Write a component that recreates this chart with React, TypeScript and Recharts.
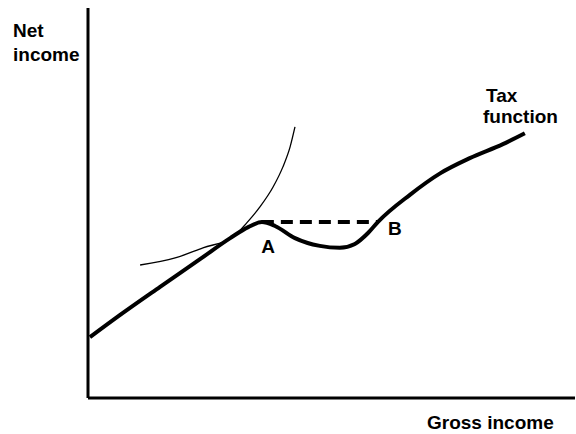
import { LineChart, Line, XAxis, YAxis, ReferenceDot, ReferenceLine } from 'recharts';

// gross income (x) vs net income (y), both on a 0-100 scale
const taxX = [0.4, 6.6, 14.8, 23.0, 29.2, 32.9, 35.7, 38.4, 42.5, 47.6, 51.7, 54.8, 57.5, 59.5, 66.1, 72.3, 78.4, 85.2, 89.7];
const taxY = [15.6, 21.3, 28.5, 35.6, 41.0, 43.8, 45.1, 44.1, 41.0, 39.0, 38.5, 39.5, 42.3, 45.1, 52.1, 57.6, 61.5, 65.1, 67.9];

const curveX = [10.7, 17.9, 23.6, 29.8, 32.6, 35.3, 38.0, 40.0, 41.5, 42.5];
const curveY = [34.1, 35.9, 38.5, 41.3, 44.9, 49.0, 54.1, 59.2, 64.4, 69.5];

const dashX = [35.7, 59.5];
const dashY = [45.1, 45.1];

const pointLabels = [
    { name: 'A', x: 37.0, y: 39.0 },
    { name: 'B', x: 63.0, y: 43.6 },
];

const taxData = taxX.map((x, i) => ({ x, y: taxY[i] }));
const curveData = curveX.map((x, i) => ({ x, y: curveY[i] }));
const dashData = dashX.map((x, i) => ({ x, y: dashY[i] }));

const font = '"Liberation Sans", Arial, sans-serif';
const textStyle = { fontFamily: font, fontSize: 19, fontWeight: 'bold' as const, fill: '#000' };

const App = () => {
    return (
        <div style={{ position: 'fixed', left: 0, top: 0, width: 576, height: 434, background: '#fff' }}>
            <LineChart width={576} height={434} margin={{ top: 8, right: 1, bottom: 36, left: 88 }}>
                <XAxis type="number" dataKey="x" domain={[0, 100]} hide allowDataOverflow/>
                <YAxis type="number" dataKey="y" domain={[0, 100]} hide allowDataOverflow/>
                {/*axes*/}
                <ReferenceLine segment={[{ x: 0, y: 0 }, { x: 100, y: 0 }]} stroke="#000" strokeWidth={3} ifOverflow="visible"/>
                <ReferenceLine segment={[{ x: 0, y: 0 }, { x: 0, y: 100 }]} stroke="#000" strokeWidth={3} ifOverflow="visible"/>
                <Line data={curveData} dataKey="y" type="monotone" stroke="#000" strokeWidth={1.3}
                      dot={false} isAnimationActive={false}/>
                <Line data={dashData} dataKey="y" type="linear" stroke="#000" strokeWidth={4}
                      strokeDasharray="12 7" dot={false} isAnimationActive={false}/>
                <Line data={taxData} dataKey="y" type="monotone" stroke="#000" strokeWidth={4}
                      strokeLinejoin="round" dot={false} isAnimationActive={false}/>
                {pointLabels.map(p => (
                    <ReferenceDot key={p.name} x={p.x} y={p.y} r={0} stroke="none"
                                  label={{ value: p.name, position: 'center', ...textStyle }}/>
                ))}
                <text x={13} y={37} style={textStyle}>Net</text>
                <text x={13} y={61} style={textStyle}>income</text>
                <text x={486} y={102} style={textStyle}>Tax</text>
                <text x={483} y={123} style={textStyle}>function</text>
                <text x={427} y={429} style={textStyle}>Gross income</text>
            </LineChart>
        </div>
    )
}

export default App
